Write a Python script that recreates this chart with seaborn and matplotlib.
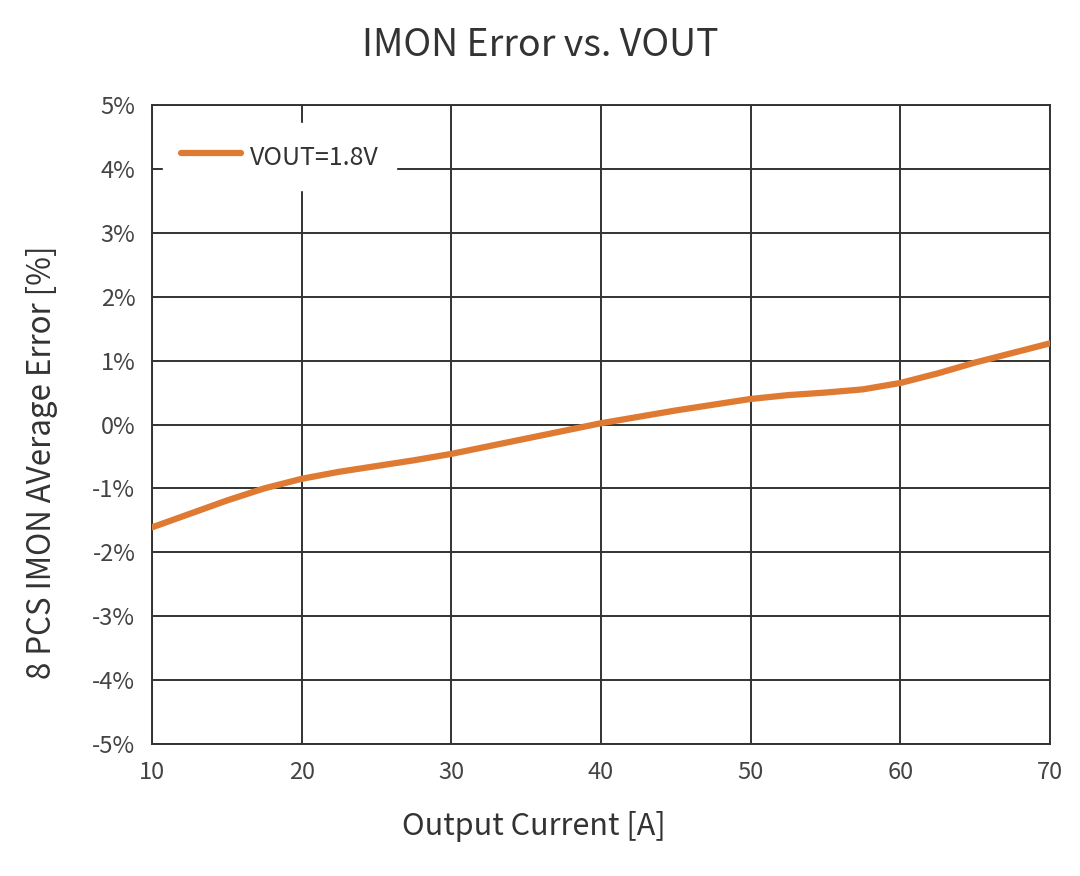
import matplotlib
matplotlib.use("Agg")
import matplotlib.pyplot as plt
import seaborn as sns
import pandas as pd

current = [10, 12.5, 15, 17.5, 20, 22.5, 25, 27.5, 30, 32.5, 35, 37.5, 40, 42.5, 45, 47.5, 50, 52.5, 55, 57.5, 60, 62.5, 65, 67.5, 70]
error = [-1.61, -1.40, -1.19, -1.00, -0.85, -0.74, -0.65, -0.56, -0.46, -0.34, -0.22, -0.10, 0.02, 0.12, 0.22, 0.31, 0.40, 0.46, 0.50, 0.55, 0.65, 0.80, 0.97, 1.12, 1.27]
series_label = "VOUT=1.8V"
yticks = [-5, -4, -3, -2, -1, 0, 1, 2, 3, 4, 5]
ytick_labels = ["-5%", "-4%", "-3%", "-2%", "-1%", "0%", "1%", "2%", "3%", "4%", "5%"]
xticks = [10, 20, 30, 40, 50, 60, 70]

df = pd.DataFrame({"Output Current [A]": current, "Error": error, "Series": series_label})

sns.set_style("white")
plt.rcParams["font.family"] = ["Noto Sans CJK SC", "DejaVu Sans"]

fig = plt.figure(figsize=(10.8, 8.76), dpi=100)
ax = fig.add_axes([0.1407, 0.1507, 0.8315, 0.7294])
sns.lineplot(data=df, x="Output Current [A]", y="Error", hue="Series",
             palette=["#DF7A32"], linewidth=4.5, ax=ax, zorder=3)

ax.set_xlim(10, 70)
ax.set_ylim(-5, 5)
ax.set_xticks(xticks)
ax.set_yticks(yticks)
ax.set_yticklabels(ytick_labels)
ax.grid(True, color="#333333", linewidth=1.4)
for s in ax.spines.values():
    s.set_color("#333333")
    s.set_linewidth(1.4)
ax.tick_params(axis="x", labelsize=17, colors="#444444", length=0, pad=12)
ax.tick_params(axis="y", labelsize=17, colors="#444444", length=0, pad=12)

fig.text(0.5, 1 - 45 / 876, "IMON Error vs. VOUT", fontsize=27, color="#333333",
         ha="center", va="center")
ax.set_xlabel("")
ax.set_ylabel("")
fig.text(534 / 1080, 1 - 826 / 876, "Output Current [A]", fontsize=22, color="#333333",
         ha="center", va="center")
fig.text(42 / 1080, 1 - 462 / 876, "8 PCS IMON AVerage Error [%]", fontsize=22.5,
         color="#333333", ha="center", va="center", rotation=90)

leg = ax.legend(loc="upper left", bbox_to_anchor=(0.012, 0.972), borderaxespad=0,
                fontsize=18, frameon=True, framealpha=1, edgecolor="white",
                facecolor="white", handlelength=2.4, handletextpad=0.35,
                handleheight=1.56, borderpad=0.72)
for t in leg.get_texts():
    t.set_color("#333333")
leg.set_zorder(5)

fig.savefig("out.png", dpi=100, facecolor="white")
